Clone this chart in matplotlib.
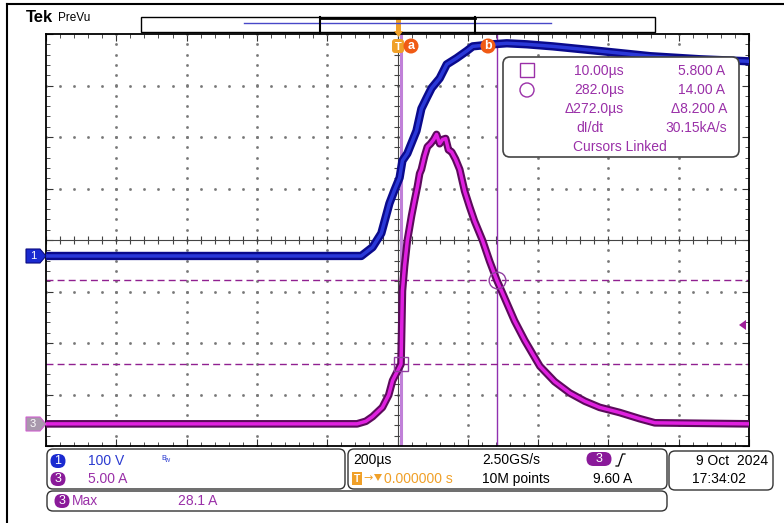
import numpy as np
import matplotlib.pyplot as plt
from matplotlib import font_manager
from matplotlib.patches import FancyBboxPatch, Rectangle, Polygon, Circle

# values, time in us
ch1_t = [-1000, -103, -71, -46, -23, -9, 6, 14, 28, 54, 68, 83, 97, 120, 140,
         168, 197, 214, 271, 311, 368, 442, 575, 718, 860, 1000]
ch1_v = [0, 0, 17, 44, 102, 127, 152, 185, 199, 243, 286, 307, 326, 345, 372,
         384, 398, 407, 411, 413, 411, 407, 398, 388, 382, 378]

ch3_t = [-1000, -115, -90, -71, -43, -25, -14, 10, 14, 20, 28, 40, 48, 57, 63, 68,
         77, 85, 94, 103, 111, 120, 128, 137, 145, 154, 165, 177, 191, 205,
         219, 242, 262, 282, 305, 333, 362, 405, 447, 490, 533, 575, 632, 689,
         732, 1000]
ch3_i = [0, 0, 0.25, 0.7, 1.6, 2.8, 4.2, 5.8, 12.9, 15.3, 17.8, 20.2, 21.6, 23.1,
         24.3, 24.7, 26.0, 26.9, 27.2, 27.6, 28.1, 27.2, 27.6, 27.7, 26.6, 26.4,
         25.7, 24.7, 22.6, 21.1, 19.7, 17.8, 15.8, 14.0, 12.2, 10.0, 8.1, 5.6,
         4.1, 3.0, 2.2, 1.6, 1.1, 0.5, 0.1, 0]

cursor_t = [10.0, 282.0]
cursor_i = [5.8, 14.0]
trig_level = 9.6

V_DIV = 100.0
A_DIV = 5.0
T_DIV = 200.0
CH1_POS = -0.31
CH3_POS = -3.57

names = {f.name for f in font_manager.fontManager.ttflist}
FONT = "Liberation Sans Narrow" if "Liberation Sans Narrow" in names else "Liberation Sans"
plt.rcParams["font.family"] = [FONT, "DejaVu Sans"]

PURPLE = "#9a30a8"
BLUE = "#2a3ad0"
ORANGE = "#f0a028"
RED = "#f05a14"


def ch3_div(i):
    return np.asarray(i) / A_DIV + CH3_POS


def main():
    fig = plt.figure(figsize=(7.84, 5.23), dpi=100)
    W, H = 784, 523
    ax = fig.add_axes([46 / W, 1 - 446 / H, 703 / W, 412 / H])
    ax.set_xlim(-5 * T_DIV, 5 * T_DIV)
    ax.set_ylim(-4, 4)

    # graticule dots
    for k in range(-4, 5):
        if k == 0:
            continue
        yy = np.arange(-4, 4.01, 0.2)
        ax.plot(np.full_like(yy, k * T_DIV), yy, ls="none", marker="s", ms=0.9, color="#777")
    for k in range(-3, 4):
        if k == 0:
            continue
        xx = np.arange(-1000, 1001, 40)
        ax.plot(xx, np.full_like(xx, k, dtype=float), ls="none", marker="s", ms=0.9, color="#777")

    # center crosshair with minor ticks
    ax.axhline(0, color="#444", lw=0.8)
    ax.axvline(0, color="#444", lw=0.8)
    xx = np.arange(-1000, 1001, 40)
    ax.vlines(xx, -0.07, 0.07, color="#444", lw=0.8)
    yy = np.arange(-4, 4.01, 0.2)
    ax.hlines(yy, -9, 9, color="#444", lw=0.8)

    ax.set_xticks(np.arange(-1000, 1001, 200))
    ax.set_xticks(np.arange(-1000, 1001, 40), minor=True)
    ax.set_yticks(np.arange(-4, 5, 1))
    ax.set_yticks(np.arange(-4, 4.01, 0.2), minor=True)
    ax.tick_params(which="both", direction="in", top=True, right=True,
                   labelbottom=False, labelleft=False, color="#333")
    ax.tick_params(which="major", length=5, width=0.8)
    ax.tick_params(which="minor", length=3, width=0.6)
    for s in ax.spines.values():
        s.set_linewidth(1.3)

    # cursors
    ax.axvline(cursor_t[0], color="#c080d8", lw=2.2, zorder=2)
    ax.axvline(cursor_t[1], color="#9030b0", lw=1.0, zorder=2)
    for ci in cursor_i:
        ax.axhline(ch3_div(ci), color="#902090", lw=1.0, dashes=(5, 3), zorder=2)

    # traces
    y1 = np.asarray(ch1_v) / V_DIV + CH1_POS
    ax.plot(ch1_t, y1, color="#0a0a8c", lw=6, zorder=3)
    ax.plot(ch1_t, y1, color="#2a38d8", lw=2.5, zorder=3)
    y3 = ch3_div(ch3_i)
    ax.plot(ch3_t, y3, color="#5c0a5c", lw=5.5, zorder=4)
    ax.plot(ch3_t, y3, color="#e020e0", lw=2.5, zorder=4)

    ax.plot(cursor_t[0], ch3_div(cursor_i[0]), marker="s", ms=10, mfc="none",
            mec="#9040a0", mew=1, zorder=5)
    ax.plot(cursor_t[1], ch3_div(cursor_i[1]), marker="o", ms=12, mfc="none",
            mec="#9040a0", mew=1, zorder=5)

    # overlay in pixel coords
    ov = fig.add_axes([0, 0, 1, 1], zorder=5)
    ov.set_xlim(0, W)
    ov.set_ylim(H, 0)
    ov.axis("off")

    ov.plot([7, W], [4, 4], color="k", lw=1.5)
    ov.plot([7, 7], [4, H], color="k", lw=1.5)

    ov.text(26, 18, "Tek", fontsize=12, fontweight="bold", va="center", family=["Liberation Sans", "DejaVu Sans"])
    ov.text(58, 18, "PreVu", fontsize=8.5, va="center")

    # record view bar
    ov.add_patch(Rectangle((141, 17), 514, 15, fc="white", ec="k", lw=1))
    ov.plot([244, 551], [23, 23], color="#4848c8", lw=1)
    ov.plot([320, 320], [17, 33], color="k", lw=1.5)
    ov.plot([475, 475], [17, 33], color="k", lw=1.5)
    ov.plot([320, 475], [17.5, 17.5], color="k", lw=2)
    ov.add_patch(Rectangle((396, 19), 5, 12, fc=ORANGE, ec="none"))
    ov.add_patch(Polygon([[394, 31], [403, 31], [398.5, 37]], fc=ORANGE, ec="none"))

    # trigger / cursor badges
    ov.add_patch(FancyBboxPatch((392, 39), 12, 14, boxstyle="round,pad=0,rounding_size=3",
                                fc=ORANGE, ec="none"))
    ov.text(398, 46.5, "T", color="white", fontsize=8, ha="center", va="center", fontweight="bold")
    for (cx, cy, lab) in [(411, 46, "a"), (488, 46, "b"), (546, 71, "a"), (546, 109, "b")]:
        ov.add_patch(Circle((cx, cy), 7.5, fc=RED, ec="none"))
        ov.text(cx, cy, lab, color="white", fontsize=9, ha="center", va="center", fontweight="bold")

    # trigger level arrow
    lvl = 240 - ch3_div(trig_level) * 51.5
    ov.add_patch(Polygon([[739, lvl], [746, lvl - 5], [746, lvl + 5]], fc="#a0209a", ec="none"))

    # channel flags
    ov.add_patch(Polygon([[26, 249], [40, 249], [46, 256], [40, 263], [26, 263]], fc="#1a2ad0", ec="#0a0a80", lw=0.8))
    ov.text(33, 256, "1", color="white", fontsize=8, ha="center", va="center")
    ov.add_patch(Polygon([[26, 417], [40, 417], [46, 424], [40, 431], [26, 431]], fc="#a898ac", ec="#d060d0", lw=0.8))
    ov.text(33, 424, "3", color="white", fontsize=8, ha="center", va="center")

    # cursor readout box
    ov.add_patch(FancyBboxPatch((503, 57), 236, 100, boxstyle="round,pad=0,rounding_size=7",
                                fc="white", ec="#444", lw=1.2))
    ov.add_patch(Rectangle((520, 63), 14, 14, fc="none", ec=PURPLE, lw=1))
    ov.add_patch(Circle((527, 90), 7, fc="none", ec=PURPLE, lw=1))
    col1 = ["10.00µs", "282.0µs", "Δ272.0µs"]
    col2 = ["5.800 A", "14.00 A", "Δ8.200 A"]
    rows = [71, 90, 109]
    for r, a, b in zip(rows, col1, col2):
        ov.text(624, r, a, color=PURPLE, fontsize=10, ha="right", va="center")
        ov.text(725 if not b.startswith("Δ") else 727, r, b, color=PURPLE, fontsize=10, ha="right", va="center")
    ov.text(604, 128, "dI/dt", color=PURPLE, fontsize=10, ha="right", va="center")
    ov.text(727, 128, "30.15kA/s", color=PURPLE, fontsize=10, ha="right", va="center")
    ov.text(620, 147, "Cursors Linked", color=PURPLE, fontsize=10, ha="center", va="center")

    # bottom status panels
    def panel(x, y, w, h):
        ov.add_patch(FancyBboxPatch((x, y), w, h, boxstyle="round,pad=0,rounding_size=6",
                                    fc="white", ec="#333", lw=1))

    def badge(cx, cy, lab, color, w=15):
        ov.add_patch(FancyBboxPatch((cx - w / 2, cy - 7), w, 14, boxstyle="round,pad=0,rounding_size=7",
                                    fc=color, ec="none"))
        ov.text(cx, cy, lab, color="white", fontsize=9, ha="center", va="center")

    panel(47, 449, 298, 40)
    panel(348, 449, 319, 40)
    panel(669, 451, 104, 39)
    panel(47, 491, 620, 20)

    badge(58, 461, "1", "#1a2ad0")
    ov.text(88, 461, "100 V", color=BLUE, fontsize=10, va="center")
    ov.text(161, 458, "B", color=BLUE, fontsize=5.5, va="center")
    ov.text(165, 461, "W", color=BLUE, fontsize=4, va="center")
    badge(58, 479, "3", "#8a1a9a")
    ov.text(88, 479, "5.00 A", color=PURPLE, fontsize=10, va="center")

    ov.text(353, 460, "200µs", fontsize=10, va="center")
    ov.text(482, 460, "2.50GS/s", fontsize=10, va="center")
    badge(599, 459, "3", "#8a1a9a", w=25)
    ov.plot([616, 618.5, 622.5, 625], [466, 466, 454, 454], color="k", lw=0.9)
    ov.add_patch(Rectangle((352, 472), 10, 13, fc=ORANGE, ec="none"))
    ov.text(357, 478.5, "T", color="white", fontsize=7.5, ha="center", va="center", fontweight="bold")
    ov.text(363, 478, "→", color=ORANGE, fontsize=8, va="center", family=["DejaVu Sans"])
    ov.add_patch(Polygon([[374, 474], [382, 474], [378, 481]], fc=ORANGE, ec="none"))
    ov.text(384, 479, "0.000000 s", color=ORANGE, fontsize=10, va="center")
    ov.text(482, 479, "10M points", fontsize=10, va="center")
    ov.text(593, 479, "9.60 A", fontsize=10, va="center")

    ov.text(768, 461, "9 Oct  2024", fontsize=10, ha="right", va="center")
    ov.text(692, 479, "17:34:02", fontsize=10, va="center")

    badge(62, 501, "3", "#8a1a9a")
    ov.text(72, 501, "Max", color=PURPLE, fontsize=10, va="center")
    ov.text(178, 501, "28.1 A", color=PURPLE, fontsize=10, va="center")

    fig.savefig("out.png", dpi=100)


if __name__ == "__main__":
    main()
